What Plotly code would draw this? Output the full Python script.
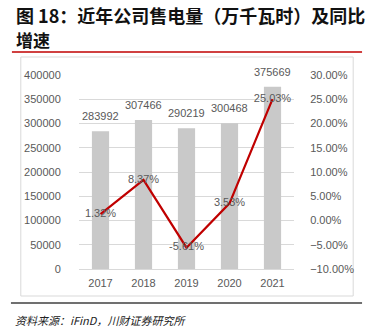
import plotly.graph_objects as go

# Annual electricity sales (10k kWh) and year-on-year growth
years = ["2017", "2018", "2019", "2020", "2021"]
sales = [283992, 307466, 290219, 300468, 375669]
growth = [0.0132, 0.0837, -0.0561, 0.0353, 0.2503]

W, H = 366, 334
L, R, T, B = 79, 297, 75, 269  # plot area in pixels

FONT = "Liberation Sans, Arial, Noto Sans CJK SC, sans-serif"
CJK = "Noto Sans CJK SC, sans-serif"
GRAY = "#595959"


def px(x):
    return (x - L) / (R - L)


def py(y):
    return (B - y) / (B - T)


fig = go.Figure()

fig.add_trace(go.Bar(
    x=years, y=sales, marker=dict(color="#C9C9C9", line=dict(width=0)),
    width=0.4, yaxis="y", hoverinfo="skip", showlegend=False,
))

fig.add_trace(go.Scatter(
    x=years, y=growth, yaxis="y2", mode="lines+text",
    line=dict(color="#C00000", width=2.2),
    text=[f"{g*100:.2f}%" for g in growth], textposition="middle center",
    textfont=dict(family=FONT, size=11, color=GRAY), cliponaxis=False,
    hoverinfo="skip", showlegend=False,
))

# value labels above the bars (x given as category index on the category axis)
annotations = [
    dict(x=i, y=v, xref="x", yref="y", text=str(v), showarrow=False,
         yanchor="bottom", yshift=7, font=dict(family=FONT, size=11, color=GRAY))
    for i, v in enumerate(sales)
]

annotations += [
    dict(x=px(13), y=py(15), xref="paper", yref="paper", xanchor="left", yanchor="middle",
         text="<b>图 18：近年公司售电量（万千瓦时）及同比</b>", showarrow=False,
         font=dict(family=CJK, size=18, color="#111111")),
    dict(x=px(13), y=py(40), xref="paper", yref="paper", xanchor="left", yanchor="middle",
         text="<b>增速</b>", showarrow=False,
         font=dict(family=CJK, size=17, color="#111111")),
    dict(x=px(12), y=py(320), xref="paper", yref="paper", xanchor="left", yanchor="middle",
         text="<i>资料来源：iFinD，川财证券研究所</i>", showarrow=False,
         font=dict(family=CJK, size=11, color="#222222")),
]

shapes = [
    # red rule under the title
    dict(type="line", xref="paper", yref="paper", x0=px(11), x1=px(366), y0=py(52), y1=py(52),
         line=dict(color="#C00000", width=1.3)),
    # chart frame
    dict(type="rect", xref="paper", yref="paper", x0=px(20), x1=px(357), y0=py(57), y1=py(296),
         line=dict(color="#D9D9D9", width=1), layer="below"),
    # rule above the source note
    dict(type="line", xref="paper", yref="paper", x0=px(10), x1=px(366), y0=py(303), y1=py(303),
         line=dict(color="#404040", width=1.3)),
]

fig.update_layout(
    width=W, height=H,
    margin=dict(l=L, r=W - R, t=T, b=H - B),
    paper_bgcolor="white", plot_bgcolor="white",
    xaxis=dict(type="category", categoryorder="array", categoryarray=years,
               range=[-0.5, len(years) - 0.5], showgrid=False, showline=False,
               ticks="outside", ticklen=4, tickcolor="rgba(0,0,0,0)",
               tickfont=dict(family=FONT, size=11, color=GRAY)),
    yaxis=dict(range=[0, 400000], dtick=50000, showgrid=True, gridcolor="#D9D9D9", gridwidth=1,
               zeroline=True, zerolinecolor="#D9D9D9", zerolinewidth=1,
               tickformat="d", tickfont=dict(family=FONT, size=11, color=GRAY),
               ticks="outside", ticklen=15, tickcolor="rgba(0,0,0,0)", showline=False),
    yaxis2=dict(range=[-0.10, 0.30], dtick=0.05, overlaying="y", side="right",
                showgrid=False, zeroline=False, tickformat=".2%",
                tickfont=dict(family=FONT, size=11, color=GRAY),
                ticks="outside", ticklen=13, tickcolor="rgba(0,0,0,0)"),
    annotations=annotations,
    shapes=shapes,
)

fig.write_html("out.html")
